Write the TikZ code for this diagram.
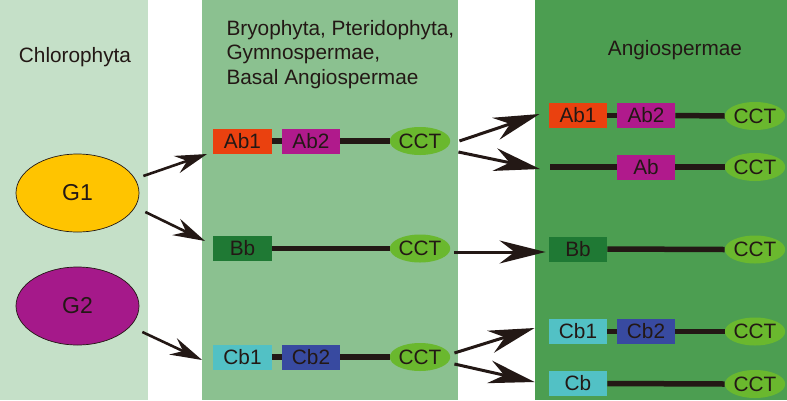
\documentclass[tikz,border=0pt]{standalone}
\usepackage{fontspec}
\setmainfont{Liberation Sans}
\usetikzlibrary{shapes.geometric,arrows.meta}
\definecolor{ink}{HTML}{231815}
\definecolor{panelL}{HTML}{C5E0C8}
\definecolor{panelM}{HTML}{8BC190}
\definecolor{panelR}{HTML}{4C9E51}
\definecolor{cAbone}{HTML}{EA410F}
\definecolor{cAbtwo}{HTML}{B01A8C}
\definecolor{cBb}{HTML}{1F7934}
\definecolor{cCbone}{HTML}{52C1C5}
\definecolor{cCbtwo}{HTML}{384AA0}
\definecolor{cCCT}{HTML}{6AB82E}
\definecolor{cGone}{HTML}{FFC400}
\definecolor{cGtwo}{HTML}{A5198A}
\begin{document}
\begin{tikzpicture}[x=1pt,y=-1pt,
  txt/.style={text=ink, font=\fontsize{20.8}{24}\selectfont},
  gbox/.style={txt, rectangle, inner sep=0pt, minimum width=58.5pt, minimum height=25pt},
  cct/.style={txt, ellipse, fill=cCCT, inner sep=0pt, minimum width=58pt, minimum height=28pt},
  grp/.style={txt, ellipse, draw=ink, line width=0.7pt, inner sep=0pt, minimum width=123pt, minimum height=78pt, font=\fontsize{23}{26}\selectfont},
  gline/.style={draw=ink, line width=5.5pt},
  arrs/.style={draw=ink, line width=2.6pt, -{Stealth[length=32pt,width=18pt,inset=11pt]}},
  arrb/.style={draw=ink, line width=3pt, -{Stealth[length=46pt,width=23pt,inset=15pt]}}
]
\useasboundingbox (0,0) rectangle (787,400);
\fill[panelL] (0,0) rectangle (148,400);
\fill[panelM] (202,0) rectangle (458,400);
\fill[panelR] (535,0) rectangle (787,400);

% titles
\node[txt, anchor=base] (tL) at (75,62) {Chlorophyta};
\node[txt, anchor=base west] (tM1) at (223,35) {Bryophyta, Pteridophyta,};
\node[txt, anchor=base west] (tM2) at (223,59.5) {Gymnospermae,};
\node[txt, anchor=base west] (tM3) at (223,84) {Basal Angiospermae};
\node[txt, anchor=base] (tR) at (675,55) {Angiospermae};

% groups
\node[grp, fill=cGone] (G1) at (77.5,193) {G1};
\node[grp, fill=cGtwo] (G2) at (77.5,306) {G2};

% middle panel
\node[gbox, fill=cAbone] (mAb1) at (242.5,141) {Ab1};
\node[gbox, fill=cAbtwo] (mAb2) at (311,141) {Ab2};
\node[cct] (mC1) at (420,141) {CCT};
\node[gbox, fill=cBb] (mBb) at (242.5,248.5) {Bb};
\node[cct] (mC2) at (420,248.5) {CCT};
\node[gbox, fill=cCbone] (mCb1) at (242.5,357) {Cb1};
\node[gbox, fill=cCbtwo] (mCb2) at (311,357) {Cb2};
\node[cct] (mC3) at (420,357) {CCT};

\draw[gline] (mAb1.east) -- (mAb2.west);
\draw[gline] (mAb2.east) -- (mC1.west);
\draw[gline] (mBb.east) -- (mC2.west);
\draw[gline] (mCb1.east) -- (mCb2.west);
\draw[gline] (mCb2.east) -- (mC3.west);

% right panel
\node[gbox, fill=cAbone] (rAb1) at (578,115.5) {Ab1};
\node[gbox, fill=cAbtwo] (rAb2) at (646,115.5) {Ab2};
\node[cct] (rC1) at (755,116) {CCT};
\coordinate (rAbs) at (550,167);
\node[gbox, fill=cAbtwo] (rAb) at (646,167) {Ab};
\node[cct] (rC2) at (755,167) {CCT};
\node[gbox, fill=cBb] (rBb) at (578,249) {Bb};
\node[cct] (rC3) at (755,249.5) {CCT};
\node[gbox, fill=cCbone] (rCb1) at (578,331.5) {Cb1};
\node[gbox, fill=cCbtwo] (rCb2) at (646,331.5) {Cb2};
\node[cct] (rC4) at (755,331.5) {CCT};
\node[gbox, fill=cCbone] (rCb) at (578,383.5) {Cb};
\node[cct] (rC5) at (755,384) {CCT};

\draw[gline] (rAb1.east) -- (rAb2.west);
\draw[gline] (rAb2.east) -- (rC1.west);
\draw[gline] (rAbs) -- (rAb.west);
\draw[gline] (rAb.east) -- (rC2.west);
\draw[gline] (rBb.east) -- (rC3.west);
\draw[gline] (rCb1.east) -- (rCb2.west);
\draw[gline] (rCb2.east) -- (rC4.west);
\draw[gline] (rCb.east) -- (rC5.west);

% arrows left -> middle
\draw[arrs] ([shift={(4,-17)}]G1.east) -- ([shift={(-6,13)}]mAb1.west);
\draw[arrs] ([shift={(6,19)}]G1.east) -- ([shift={(-8,-7.5)}]mBb.west);
\draw[arrs] ([shift={(3,26)}]G2.east) -- ([shift={(-11,3)}]mCb1.west);

% arrows middle -> right
\draw[arrb] ([shift={(9,0)}]mC1.east) -- ([shift={(-9,-1.5)}]rAb1.west);
\draw[arrb] ([shift={(8,11)}]mC1.east) -- ([shift={(-10,2)}]rAbs);
\draw[arrb] ([shift={(4,3.5)}]mC2.east) -- ([shift={(-3,3)}]rBb.west);
\draw[arrb] ([shift={(4,-4)}]mC3.east) -- ([shift={(-14,-3.5)}]rCb1.west);
\draw[arrb] ([shift={(4,7)}]mC3.east) -- ([shift={(-14,-1.5)}]rCb.west);
\end{tikzpicture}
\end{document}
